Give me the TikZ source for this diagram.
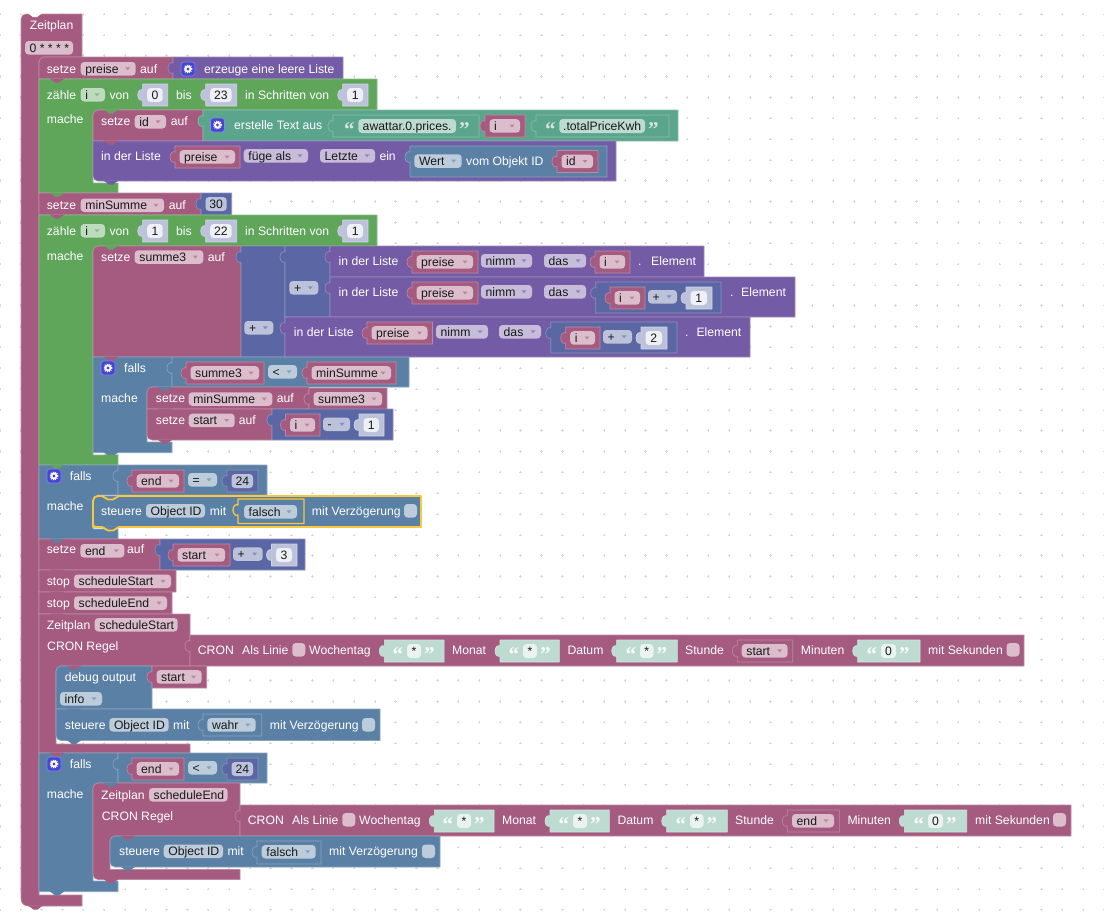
\documentclass[tikz,border=0pt]{standalone}
\usepackage{fontspec}
\setmainfont{Liberation Sans}
\newfontfamily\qfont{Liberation Serif}
\definecolor{bM}{HTML}{A55B80}\definecolor{fM}{HTML}{DBBDCC}
\definecolor{bG}{HTML}{5FA55A}\definecolor{fG}{HTML}{BDDBBD}
\definecolor{bP}{HTML}{745BA5}\definecolor{fP}{HTML}{C7BDDB}
\definecolor{bT}{HTML}{5BA58C}\definecolor{fT}{HTML}{BDDBD1}
\definecolor{bA}{HTML}{5B67A5}\definecolor{fA}{HTML}{BDC2DB}
\definecolor{bB}{HTML}{5B80A5}\definecolor{fB}{HTML}{BDCCDB}
\definecolor{wA}{HTML}{EEF0F6}\definecolor{wT}{HTML}{EAF3F0}
\definecolor{selc}{HTML}{FAC83C}\definecolor{gearc}{HTML}{4646D2}
\newcounter{nd}
\def\rt{.01}\def\rb{.01}
\newcommand\rr[2]{\def\rt{#1}\def\rb{#2}}
\newcommand\rz{\def\rt{.01}\def\rb{.01}}
\tikzset{
 lab/.style={anchor=base west,inner sep=0pt,font=\fontsize{12.2}{14}\selectfont,text=white},
 dk/.style={lab,text=black!90},
 nmbt/.style={dk,anchor=base},
 qt/.style={anchor=base west,inner sep=0pt,font=\qfont\bfseries\fontsize{21}{21}\selectfont},
 edge/.style={line width=.6pt,line join=round}
}
% white label
\newcommand\tx[3]{\stepcounter{nd}\node[lab,name=n\thend] at (#1,#2) {#3};}
% statement block, top-left and bottom-left radius from \rr
\newcommand\blk[5]{\draw[edge,fill=#5,draw=#5!72!white] ({#1},{#2+6}) [rounded corners=\rt pt] -- (#1,#2) [sharp corners] -- (#3,#2) -- (#3,#4) [rounded corners=\rb pt] -- (#1,#4) [sharp corners] -- cycle;\rz}
% C-shaped block: x1,y1,xhead,yhead,xstem,ybar,xbar,ybottom,colour
\newcommand\cblk[9]{\draw[edge,fill=#9,draw=#9!72!white] ({#1},{#2+6}) [rounded corners=\rt pt] -- (#1,#2) [sharp corners] -- (#3,#2) -- (#3,#4) -- ({#5+6},#4) [rounded corners=5pt] -- (#5,#4) [sharp corners] -- (#5,#6) -- (#7,#6) -- (#7,#8) [rounded corners=\rb pt] -- (#1,#8) [sharp corners] -- cycle;\rz}
% value block with puzzle tab on the left
\newcommand\vb[6][]{\draw[edge,fill=#6,draw=#6!72!white,#1] (#2,#3) -- (#4,#3) -- (#4,#5) -- (#2,#5) -- ({#2},{#3+17}) -- ({#2},{#3+16}) .. controls ({#2-1.5},{#3+17}) and ({#2-5},{#3+16}) .. ({#2-5},{#3+11}) .. controls ({#2-5},{#3+6}) and ({#2-1.5},{#3+5}) .. ({#2},{#3+6}) -- cycle;}
% dropdown field
\newcommand\ddf[5]{\stepcounter{nd}\fill[f#1,rounded corners=3.5pt] (#2,#4) rectangle (#3,{#4+13.5});
 \fill[b#1!75!white] ({#3-10.5},{#4+5.3}) -- ({#3-5.5},{#4+5.3}) -- ({#3-8},{#4+8.3}) -- cycle;
 \node[dk,name=n\thend] at ({#2+4.5},{#4+11}) {#5};}
% plain field
\newcommand\fld[5]{\stepcounter{nd}\fill[f#1,rounded corners=3.5pt] (#2,#4) rectangle (#3,{#4+13.5});
 \node[dk,name=n\thend] at ({#2+4.5},{#4+11}) {#5};}
% variable block
\newcommand\vv[4]{\vb{#1}{#2}{#3}{#2+22}{bM}\ddf{M}{#1+4.5}{#3-5}{#2+4.2}{#4}}
% number in block: block colour, field colour
\newcommand\nmb[6]{\stepcounter{nd}\vb{#3}{#4}{#5}{#4+22}{#1}\fill[#2,rounded corners=3.5pt] ({#3+4.5},{#4+4}) rectangle ({#5-5},{#4+18});
 \node[nmbt,name=n\thend] at ({(#3+#5)/2-.2},{#4+15.4}) {#6};}
\newcommand\sh[4]{\nmb{fA}{wA}{#1}{#2}{#3}{#4}}
\newcommand\ma[4]{\nmb{bA}{fA}{#1}{#2}{#3}{#4}}
% string quotes and text
\newcommand\qq[5]{\stepcounter{nd}\node[qt,text=#1,name=n\thend] at ({#2-14.5},{#3+21}) {“};\stepcounter{nd}\node[qt,text=#1,name=n\thend] at ({#4+3},{#3+21}) {”};
 \stepcounter{nd}\node[nmbt,name=n\thend] at ({(#2+#4)/2},{#3+15.4}) {#5};}
\newcommand\shs[6]{\vb{#1}{#2}{#3}{#2+22}{fT}\fill[wT,rounded corners=3.5pt] (#4,{#2+4}) rectangle (#5,{#2+18});\qq{white!93!fT}{#4}{#2}{#5}{#6}}
\newcommand\tst[6]{\vb{#1}{#2}{#3}{#2+22}{bT}\fill[fT,rounded corners=3.5pt] (#4,{#2+4}) rectangle (#5,{#2+18});\qq{fT!70!white}{#4}{#2}{#5}{#6}}
\newcommand\chk[3]{\fill[#3,rounded corners=3.5pt] (#1,#2) rectangle ({#1+13},{#2+13.5});}
\newcommand\gear[2]{\draw[fill=gearc,draw=gearc!65!white,line width=.6pt,rounded corners=3pt] ({#1-7},{#2-7}) rectangle ({#1+7},{#2+7});
 \draw[white,line width=1.2pt,dash pattern=on 1pt off 1.1pt] (#1,#2) circle (3.9pt);
 \fill[white] (#1,#2) circle (3.4pt);\fill[gearc] (#1,#2) circle (1.7pt);}
\newcommand\bump[3]{\fill[#3] ({#1-7.5},{#2-.5}) .. controls ({#1-4},{#2}) and ({#1-4.5},{#2+3.6}) .. ({#1-2},{#2+3.6}) -- ({#1+2},{#2+3.6}) .. controls ({#1+4.5},{#2+3.6}) and ({#1+4},{#2}) .. ({#1+7.5},{#2-.5}) -- cycle;}
\begin{document}
\begin{tikzpicture}[x=1pt,y=-1pt]
\useasboundingbox (0,0) rectangle (1104,916);
\fill[white] (0,0) rectangle (1104,916);
% grid of dots
\foreach \i in {0,...,53}{\foreach \j in {0,...,43}{
 \draw[black!15,line width=.5pt] ({-.1+20.83*\i-1.2},{14+20.83*\j}) -- ++(2.4,0) ({-.1+20.83*\i},{14+20.83*\j-1.2}) -- ++(0,2.4);}}
% main schedule
\rr{5}{7}\cblk{21}{14}{82}{57}{39}{895}{82}{906}{bM}
\bump{35}{13.5}{white}
\bump{35.5}{906}{bM}
\tx{29.7}{29}{Zeitplan}
\fld{M}{25}{73}{41}{0 * * * *}
% setze preise
\rr{5}{0}\blk{39}{57}{173}{79}{bM}
\tx{46.7}{73}{setze}\ddf{M}{80.7}{135.7}{62}{preise}\tx{140}{73}{auf}
\vb{173}{57}{343}{79}{bP}\gear{188}{69}\tx{204}{73}{erzeuge eine leere Liste}
% loop 1
\cblk{39}{79}{377}{110}{93}{183}{118}{193}{bG}
\bump{57}{79}{bM}
\tx{46.7}{99}{zähle}\ddf{G}{80.7}{105}{88}{i}\tx{109.3}{99}{von}
\sh{142.7}{84}{167.7}{0}\tx{176}{99}{bis}\sh{205.7}{84}{236.7}{23}\tx{245}{99}{in Schritten von}\sh{342.7}{84}{368}{1}
\tx{46.7}{123}{mache}
\rr{5}{0}\blk{93}{110}{203}{141}{bM}
\bump{111}{110}{bG}
\tx{101}{125}{setze}\ddf{M}{134.7}{166}{115}{id}\tx{170.7}{125}{auf}
\vb{203}{110}{678}{141}{bT}\gear{217.5}{125}\tx{234}{129}{erstelle Text aus}
\tst{333}{115}{479}{358.3}{456}{awattar.0.prices.}
\vv{485}{115}{525}{i}
\tst{536}{115}{669}{559.3}{645}{.totalPriceKwh}
\rr{0}{5}\blk{93}{141}{616}{181}{bP}
\bump{111}{141}{bM}
\bump{111}{181}{bP}
\tx{101}{160}{in der Liste}\vv{175}{146}{240}{preise}
\ddf{P}{243.7}{308}{149}{füge als}\ddf{P}{320}{375}{149}{Letzte}\tx{379.3}{160}{ein}
\vb{410}{146}{607}{177}{bB}\ddf{B}{414.3}{461.7}{154.3}{Wert}\tx{466}{165}{vom Objekt ID}\vv{557}{150.5}{598}{id}
% minSumme
\blk{39}{193}{201}{215}{bM}
\bump{57}{193}{bG}
\tx{46.7}{209}{setze}\ddf{M}{80.7}{164}{198.5}{minSumme}\tx{168.7}{209}{auf}
\ma{201}{193}{231.7}{30}
% loop 2
\cblk{39}{215}{377}{246}{93}{455}{118}{465}{bG}
\bump{57}{215}{bM}
\tx{46.7}{235}{zähle}\ddf{G}{80.7}{105}{224}{i}\tx{109.3}{235}{von}
\sh{142.7}{220}{167.7}{1}\tx{176}{235}{bis}\sh{205.7}{220}{236.7}{22}\tx{245}{235}{in Schritten von}\sh{342.7}{220}{368}{1}
\tx{46.7}{260}{mache}
\rr{5}{0}\blk{93}{246}{241}{357}{bM}
\bump{111}{246}{bG}
\tx{101}{261}{setze}\ddf{M}{134.7}{203.3}{250.3}{summe3}\tx{207.7}{261}{auf}
\vb{241}{246}{285}{357}{bA}
\vb{285}{246}{330}{317}{bA}
\ddf{A}{289.3}{318.3}{281}{+}
\ddf{A}{244.3}{273.3}{321}{+}
% list 1
\vb{330}{246}{704}{277}{bP}\tx{338.5}{265}{in der Liste}\vv{412}{251}{478}{preise}
\ddf{P}{481}{532}{254}{nimm}\ddf{P}{544}{586}{254}{das}\vv{595}{251}{630}{i}\tx{638}{265}{.}\tx{651}{265}{Element}
% list 2
\vb{330}{277}{795}{317}{bP}\tx{338.5}{296}{in der Liste}\vv{412}{282}{478}{preise}
\ddf{P}{481}{532}{285}{nimm}\ddf{P}{544}{586}{285}{das}
\vb{595.7}{282}{721}{313}{bA}\vv{610}{287}{645}{i}\ddf{A}{648}{677}{290}{+}\sh{686}{287}{712}{1}\tx{730}{296}{.}\tx{741}{296}{Element}
% list 3
\vb{285}{317}{750}{357}{bP}\tx{293.7}{336}{in der Liste}\vv{367}{322}{432.5}{preise}
\ddf{P}{436}{488}{325}{nimm}\ddf{P}{499}{541}{325}{das}
\vb{550.7}{322}{677}{353}{bA}\vv{565.7}{327}{600}{i}\ddf{A}{603}{632}{330}{+}\sh{641}{327}{667}{2}\tx{685}{336}{.}\tx{696.3}{336}{Element}
% falls 1
\cblk{93}{357}{172}{387}{147}{442}{172}{452.7}{bB}
\bump{111}{357}{bM}
\bump{111}{452.7}{bB}
\gear{108}{368}\tx{124}{372}{falls}\tx{101}{402}{mache}
\vb{172}{357}{409}{387}{bB}\vv{186}{362}{264}{summe3}\ddf{B}{268}{297}{365}{<}\vv{307}{362}{396}{minSumme}
\rr{5}{0}\blk{147}{387}{309}{409}{bM}
\bump{165}{387}{bB}
\tx{155.7}{402}{setze}\ddf{M}{188.7}{272.3}{392.3}{minSumme}\tx{276.7}{402}{auf}
\vv{309}{388}{387}{summe3}
\rr{0}{5}\blk{147}{409}{272}{440}{bM}
\bump{165}{409}{bM}
\bump{165}{440}{bM}
\tx{155.7}{424}{setze}\ddf{M}{188.7}{234.7}{413.7}{start}\tx{238.7}{424}{auf}
\vb{272}{409}{393}{440}{bA}\vv{285.5}{414}{320}{i}\ddf{A}{323}{350}{417.5}{-}\sh{359}{414}{384}{1}
\bump{111}{455}{bG}
% falls 2
\cblk{39}{465}{118}{495}{93}{529}{118}{539}{bB}
\bump{57}{465}{bG}
\gear{54}{476}\tx{69.7}{480}{falls}\tx{46.7}{510}{mache}
\vb{118}{465}{267}{495}{bB}\vv{132}{470}{184}{end}\ddf{B}{188}{217}{473}{=}\ma{227}{470}{258}{24}
\rr{5}{5}\blk{93}{496}{421}{527}{bB}
\bump{111}{527}{bB}
\tx{101}{515}{steuere}\fld{B}{146}{205}{504}{Object ID}\tx{209.7}{515}{mit}
\vb[draw=selc,line width=1.3pt]{238}{499}{304}{523.5}{bB}
\ddf{B}{244}{297}{505}{falsch}\tx{311.7}{515}{mit Verzögerung}\chk{404}{504}{fB}
\draw[selc,line width=1.8pt,line join=round] (93,511) [rounded corners=5pt] -- (93,496) [sharp corners] -- (102,496) .. controls (105,496) and (105,499.5) .. (108,499.5) -- (113,499.5) .. controls (116,499.5) and (116,496) .. (119,496) -- (421,496) -- (421,527) -- (119,527) .. controls (116,527) and (116,530.5) .. (113,530.5) -- (108,530.5) .. controls (105,530.5) and (105,527) .. (102,527) -- (93,527) [rounded corners=5pt] -- cycle;
% setze end
\blk{39}{539}{160}{570}{bM}
\bump{57}{539}{bB}
\tx{46.7}{553.5}{setze}\ddf{M}{80.3}{124.3}{544}{end}\tx{127}{553.5}{auf}
\vb{160}{539}{305}{570}{bA}\vv{173}{544}{230}{start}\ddf{A}{233}{262.7}{547.3}{+}\sh{271.5}{544}{297}{3}
% stops
\blk{39}{570}{176}{592}{bM}
\bump{57}{570}{bM}
\tx{46.7}{585}{stop}\ddf{M}{74}{171}{574.5}{scheduleStart}
\blk{39}{592}{172}{614}{bM}
\bump{57}{592}{bM}
\tx{46.7}{607}{stop}\ddf{M}{74}{167}{596.3}{scheduleEnd}
% Zeitplan scheduleStart
\cblk{39}{614}{190}{666}{56}{744}{190}{753}{bM}
\bump{57}{614}{bM}
\tx{46.7}{629}{Zeitplan}\fld{M}{94.7}{177.7}{618}{scheduleStart}\tx{47}{650}{CRON Regel}
\vb{190}{635}{1024}{666}{bM}
\tx{197.7}{654}{CRON}\tx{242}{654}{Als Linie}\chk{292.3}{643}{fM}\tx{309}{654}{Wochentag}
\shs{384.3}{640}{444}{407}{421}{*}\tx{452}{654}{Monat}
\shs{500}{640}{559.3}{523}{537}{*}\tx{567.3}{654}{Datum}
\shs{616.7}{640}{677.3}{640}{653.5}{*}\tx{685}{654}{Stunde}
\vb{737.3}{640}{792.7}{662}{bM}\ddf{M}{741.7}{787.7}{644}{start}\tx{800.7}{654}{Minuten}
\shs{857.7}{640}{920}{881}{896}{0}\tx{928}{654}{mit Sekunden}\chk{1006.5}{643}{fM}
\rr{5}{0}\blk{56}{666}{152}{709}{bB}
\bump{74}{666}{bM}
\tx{64.7}{681}{debug output}\vv{152}{666}{206.7}{start}\ddf{B}{60}{102}{692}{info}
\rr{0}{5}\blk{56}{709}{380}{740.5}{bB}
\bump{74}{709}{bB}
\bump{74}{740.5}{bB}
\tx{64.7}{729}{steuere}\fld{B}{109.3}{168.7}{718}{Object ID}\tx{173}{729}{mit}
\vb{203}{714}{261.7}{736}{bB}\ddf{B}{207.3}{255.7}{718.2}{wahr}\tx{269.7}{729}{mit Verzögerung}\chk{362}{718}{fB}
% falls 3
\cblk{39}{753}{118}{783}{93}{881}{118}{891.7}{bB}
\bump{57}{753}{bM}
\bump{57}{891.7}{bB}
\gear{54}{764}\tx{69.7}{768}{falls}\tx{46.7}{798}{mache}
\vb{118}{753}{267}{783}{bB}\vv{132}{758}{184}{end}\ddf{B}{188}{217}{761}{<}\ma{227}{758}{258}{24}
\rr{5}{5}\cblk{93}{783}{240}{836}{110}{869.5}{240}{879.5}{bM}
\bump{111}{783}{bB}
\bump{111}{879.5}{bM}
\tx{101}{799}{Zeitplan}\fld{M}{149}{227.7}{788}{scheduleEnd}\tx{101.7}{820}{CRON Regel}
\vb{240}{805}{1071}{836}{bM}
\tx{247.7}{824}{CRON}\tx{292}{824}{Als Linie}\chk{342.3}{813}{fM}\tx{359}{824}{Wochentag}
\shs{434.3}{810}{494}{457}{471}{*}\tx{502}{824}{Monat}
\shs{550}{810}{609.3}{573}{587}{*}\tx{617.3}{824}{Datum}
\shs{666.7}{810}{727.3}{690}{703.5}{*}\tx{735}{824}{Stunde}
\vb{787.3}{810}{839.3}{832}{bM}\ddf{M}{792}{834}{814}{end}\tx{847.3}{824}{Minuten}
\shs{904.3}{810}{966.7}{928}{943}{0}\tx{975}{824}{mit Sekunden}\chk{1053}{813}{fM}
\rr{5}{5}\blk{110}{836}{440}{867}{bB}
\bump{128}{836}{bM}
\bump{128}{867}{bB}
\tx{119}{855}{steuere}\fld{B}{163.7}{223}{844.5}{Object ID}\tx{227.3}{855}{mit}
\vb{257}{841}{321}{864}{bB}\ddf{B}{261.7}{315.7}{845}{falsch}\tx{329}{855}{mit Verzögerung}\chk{422}{844.5}{fB}
\end{tikzpicture}
\end{document}
